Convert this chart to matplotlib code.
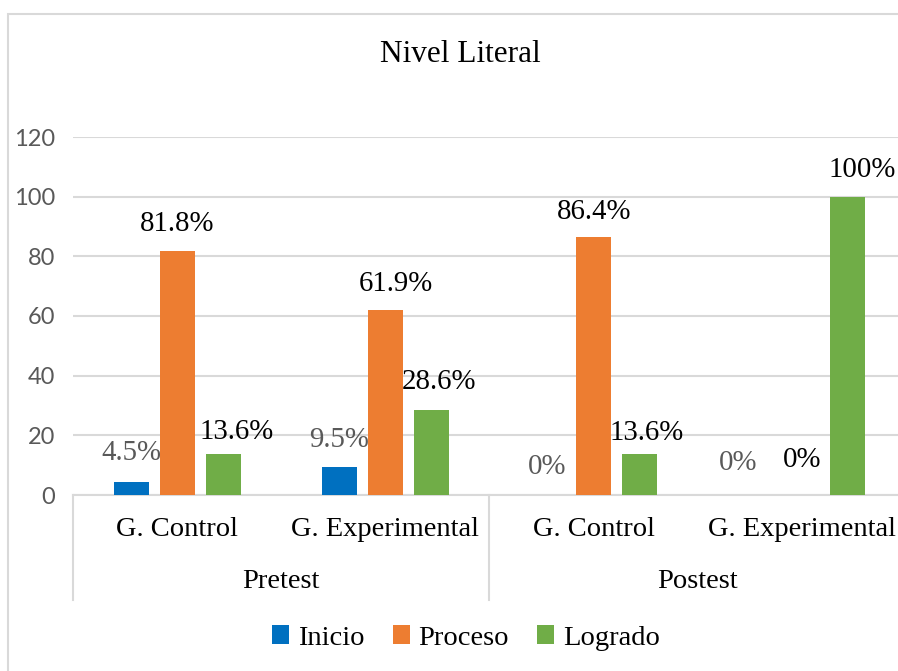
import numpy as np
import matplotlib.pyplot as plt
from matplotlib.patches import Rectangle
from matplotlib.lines import Line2D

# datos
grupos = ['G. Control', 'G. Experimental', 'G. Control', 'G. Experimental']
momentos = ['Pretest', 'Postest']
series = ['Inicio', 'Proceso', 'Logrado']
inicio = [4.5, 9.5, 0, 0]
proceso = [81.8, 61.9, 86.4, 0]
logrado = [13.6, 28.6, 13.6, 100]
etiquetas = [['4.5%', '9.5%', '0%', '0%'],
             ['81.8%', '61.9%', '86.4%', '0%'],
             ['13.6%', '28.6%', '13.6%', '100%']]
# etiquetas grises (el resto en negro)
gris = [[True, True, True, True],
        [False, False, False, False],
        [False, False, False, False]]

colores = ['#0070C0', '#ED7D31', '#70AD47']
# desplazamiento de cada etiqueta (px) respecto al tope de la barra
desp = [[(0, 29), (0, 27), (0, 28), (-18, 32)],
        [(0, 27), (10, 26), (0, 25), (0, 35)],
        [(13, 22), (8, 28), (7, 21), (14, 27)]]

serif = 'Liberation Serif'
W, H = 898, 671
fig = plt.figure(figsize=(W / 100, H / 100), dpi=100)

# borde del grafico
fig.patches.append(Rectangle((8 / W, -0.1), 1.2, 1 - 14 / H + 0.1, transform=fig.transFigure,
                             fill=False, edgecolor='#D9D9D9', lw=1.5))

izq, der, abajo, arriba = 73, 906, 495, 137
ax = fig.add_axes([izq / W, 1 - abajo / H, (der - izq) / W, (abajo - arriba) / H])

x = np.arange(len(grupos))
ancho = 0.168
paso = 0.221
valores = [inicio, proceso, logrado]
for k, (vals, col) in enumerate(zip(valores, colores)):
    pos = x + (k - 1) * paso
    ax.bar(pos, vals, width=ancho, color=col, zorder=3, label=series[k])
    for i in range(len(x)):
        dx, dy = desp[k][i]
        ax.annotate(etiquetas[k][i], (pos[i], vals[i]), xytext=(dx * 0.72, dy * 0.72),
                    textcoords='offset points', ha='center', va='center',
                    fontsize=20.8, family=serif,
                    color='#595959' if gris[k][i] else 'black', zorder=4)

ax.set_xlim(-0.5, 3.5)
ax.set_ylim(0, 120)
ax.set_yticks(range(0, 121, 20))
ax.yaxis.grid(True, color='#D9D9D9', lw=1.5, zorder=0)
for s in ax.spines.values():
    s.set_visible(False)
ax.spines['bottom'].set_visible(True)
ax.spines['bottom'].set_color('#D9D9D9')
ax.spines['bottom'].set_linewidth(1.5)
ax.tick_params(axis='y', length=0, pad=13, labelsize=17, labelcolor='#595959')
for t in ax.get_yticklabels():
    t.set_family('Lato')
ax.set_xticks([])

# eje de categorias en dos niveles
trans = ax.get_xaxis_transform()
for i, g in enumerate(grupos):
    ax.text(x[i], -35 / (abajo - arriba), g, transform=trans, ha='center', va='center',
            fontsize=20.5, family=serif, clip_on=False)
for j, m in enumerate(momentos):
    ax.text(x[2 * j] + 0.5, -86 / (abajo - arriba), m, transform=trans, ha='center',
            va='center', fontsize=20.5, family=serif, clip_on=False)
for xs in [-0.5, 1.5, 3.5]:
    ax.add_line(Line2D([xs, xs], [0, -105 / (abajo - arriba)], transform=trans,
                       color='#D9D9D9', lw=1.5, clip_on=False))

fig.text(460 / W, 1 - 54 / H, 'Nivel Literal', ha='center', va='center',
         fontsize=22.5, family=serif)

leg = fig.legend(loc='center', bbox_to_anchor=(466 / W, 1 - 638 / H), ncol=3, frameon=False,
                 prop={'family': serif, 'size': 20.5}, handlelength=0.6, handleheight=0.6,
                 handletextpad=0.3, columnspacing=1.0)

fig.savefig('out.png', dpi=100)
